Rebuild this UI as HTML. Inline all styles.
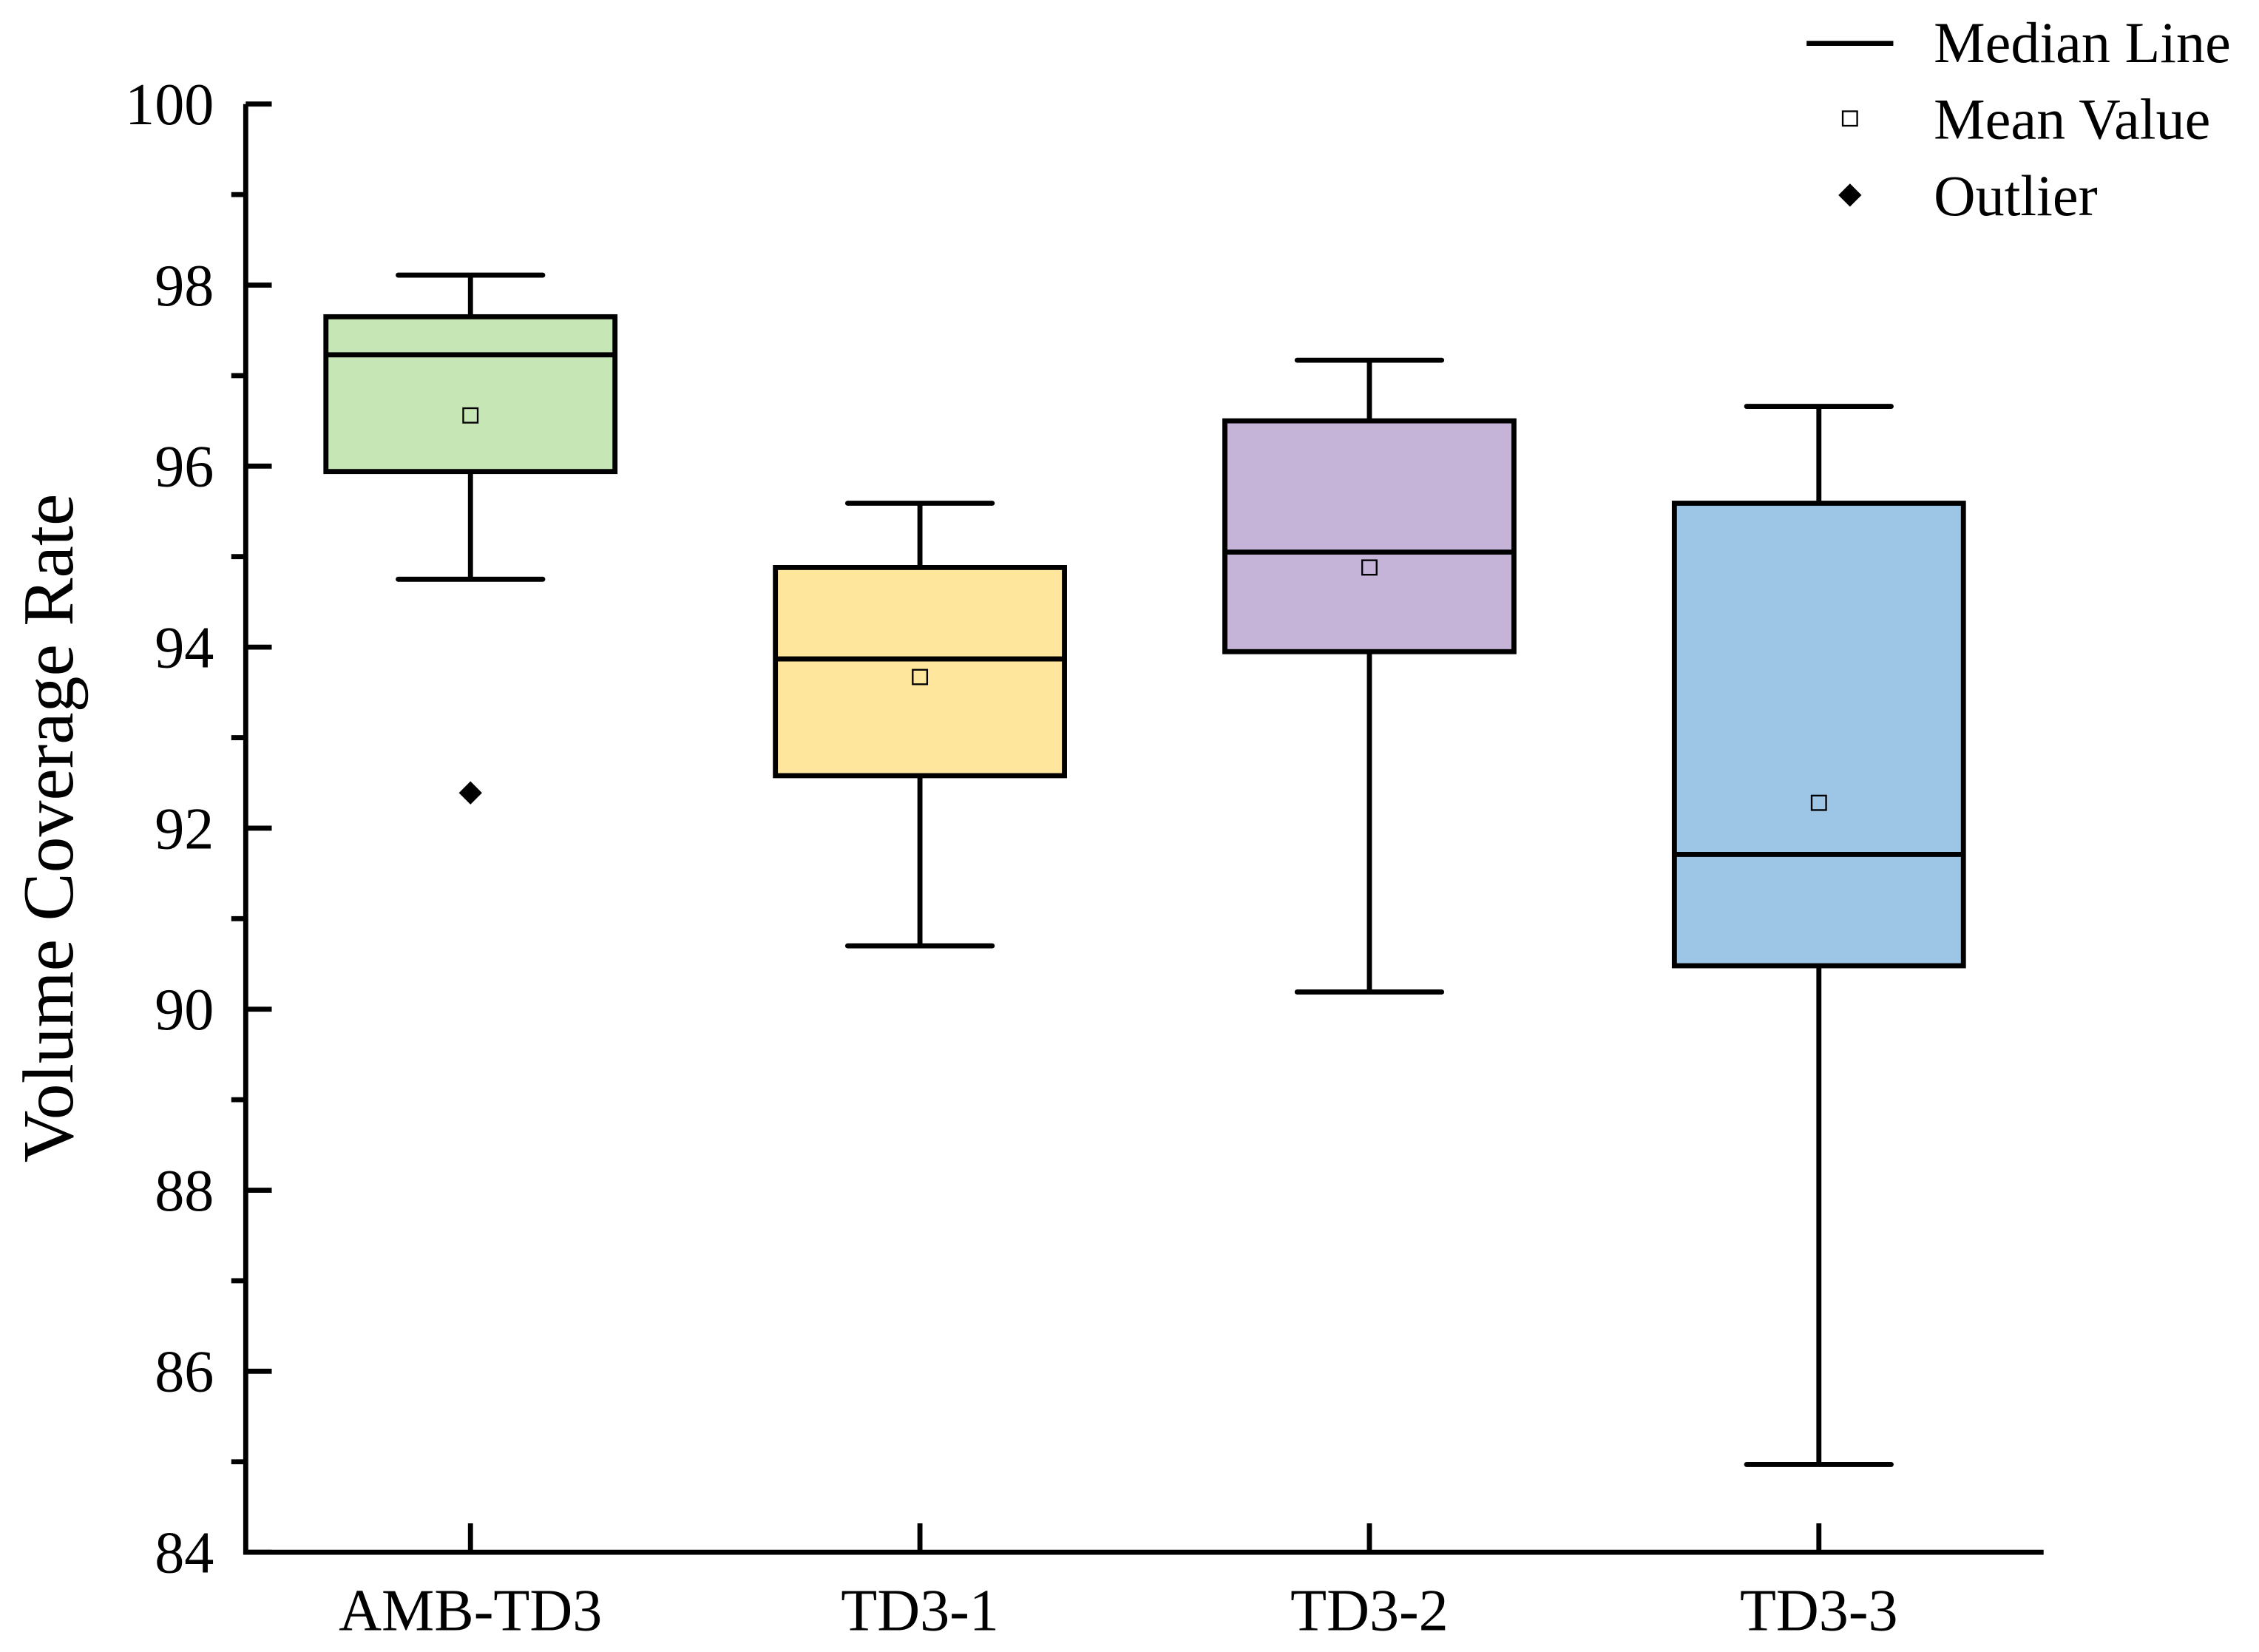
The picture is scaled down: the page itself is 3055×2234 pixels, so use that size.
<!DOCTYPE html>
<html><head><meta charset="utf-8"><style>
html,body{margin:0;padding:0;background:#fff}
svg{display:block}
text{font-family:"Liberation Serif",serif;fill:#000}
</style></head><body>
<svg id="chart" width="3055" height="2234" viewBox="0 0 1563 1143" xmlns="http://www.w3.org/2000/svg">
<g id="plot"></g>
</svg>
<script>
const categories=["AMB-TD3","TD3-1","TD3-2","TD3-3"];
const mins=[94.75,90.70,90.19,84.97];
const q1s=[95.94,92.58,93.95,90.48];
const medians=[97.23,93.87,95.05,91.71];
const q3s=[97.65,94.88,96.50,95.59];
const maxs=[98.11,95.59,97.17,96.66];
const means=[96.56,93.67,94.88,92.28];
const outliers=[[0,92.39]];
const colors=["#c6e6b6","#fee69c","#c5b4d8","#9cc5e6"];
const yTicks=[84,86,88,90,92,94,96,98,100];

const NS="http://www.w3.org/2000/svg";
const g=document.getElementById('plot');
const X0=170,X1=1414,Y0=1074,Y1=72,YMIN=84,YMAX=100;
const y=v=>Y0-(v-YMIN)/(YMAX-YMIN)*(Y0-Y1);
const x=i=>X0+(i+0.5)*(X1-X0)/categories.length;
function el(t,a,p){const e=document.createElementNS(NS,t);for(const k in a)e.setAttribute(k,a[k]);(p||g).appendChild(e);return e;}
const SW=3.5;
categories.forEach((c,i)=>{
  const cx=x(i);
  const bg=el('g',{});
  
  
  el('line',{x1:cx,x2:cx,y1:y(maxs[i]),y2:y(q3s[i]),stroke:'#000','stroke-width':SW},bg);
  el('line',{x1:cx,x2:cx,y1:y(q1s[i]),y2:y(mins[i]),stroke:'#000','stroke-width':SW},bg);
  el('line',{x1:cx-50,x2:cx+50,y1:y(maxs[i]),y2:y(maxs[i]),stroke:'#000','stroke-width':SW,'stroke-linecap':'round'},bg);
  el('line',{x1:cx-50,x2:cx+50,y1:y(mins[i]),y2:y(mins[i]),stroke:'#000','stroke-width':SW,'stroke-linecap':'round'},bg);
  el('rect',{x:cx-100,y:y(q3s[i]),width:200,height:y(q1s[i])-y(q3s[i]),fill:colors[i],stroke:'#000','stroke-width':SW},bg);
  el('line',{x1:cx-100,x2:cx+100,y1:y(medians[i]),y2:y(medians[i]),stroke:'#000','stroke-width':SW},bg);
  const m=el('rect',{x:cx-5,y:y(means[i])-5,width:10,height:10,fill:'none',stroke:'#000','stroke-width':1.2},bg);
  
  
});
outliers.forEach(o=>{
  const cx=x(o[0]),cy=y(o[1]);
  const d=el('polygon',{points:`${cx},${cy-8} ${cx+8},${cy} ${cx},${cy+8} ${cx-8},${cy}`,fill:'#000'});
  
  
});
const ax=el('g',{});


el('path',{d:`M${X0},${Y1} L${X0},${Y0} L${X1},${Y0}`,fill:'none',stroke:'#000','stroke-width':SW},ax);
yTicks.forEach(v=>{
  el('line',{x1:X0,x2:X0+18,y1:y(v),y2:y(v),stroke:'#000','stroke-width':SW},ax);
  const t=el('text',{x:X0-22,y:y(v)+14,'text-anchor':'end','font-size':41},ax);
  t.textContent=v;
  
  
  if(v<YMAX) el('line',{x1:X0-10,x2:X0,y1:y(v+1),y2:y(v+1),stroke:'#000','stroke-width':SW},ax);
});
categories.forEach((c,i)=>{
  el('line',{x1:x(i),x2:x(i),y1:Y0,y2:Y0-20,stroke:'#000','stroke-width':SW},ax);
  const t=el('text',{x:x(i),y:Y0+54,'text-anchor':'middle','font-size':41},ax);
  t.textContent=c;
  
  
});
const yt=el('text',{x:0,y:0,transform:'translate(50,573) rotate(-90)','text-anchor':'middle','font-size':50});
yt.textContent='Volume Coverage Rate';


const lg=el('g',{});


el('line',{x1:1250,x2:1310,y1:30,y2:30,stroke:'#000','stroke-width':SW},lg);
el('rect',{x:1275,y:77,width:10,height:10,fill:'none',stroke:'#000','stroke-width':1.2},lg);
el('polygon',{points:'1280,127 1288,135 1280,143 1272,135',fill:'#000'},lg);
[['Median Line',43],['Mean Value',96],['Outlier',149]].forEach(([s,yy])=>{
  const t=el('text',{x:1338,y:yy,'font-size':40},lg);
  t.textContent=s;
  
  
});
</script>
</body></html>
